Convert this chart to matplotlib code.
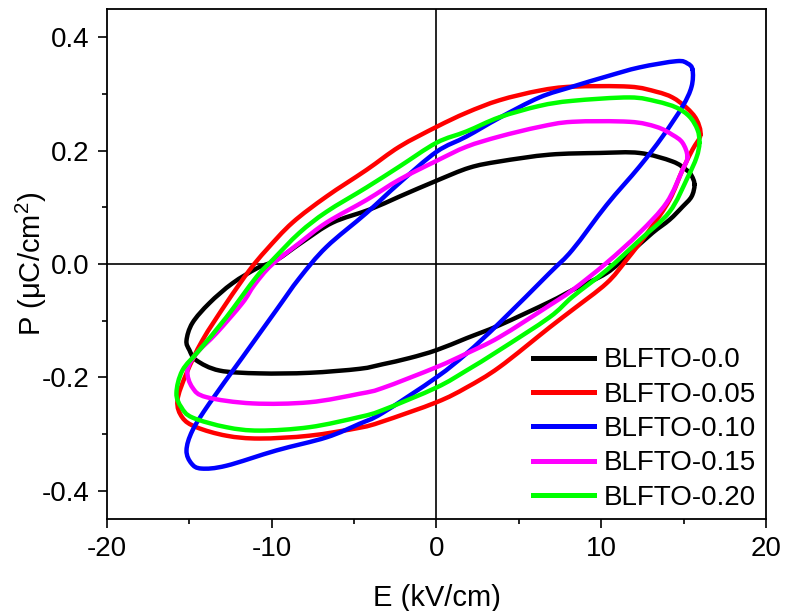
import matplotlib
matplotlib.use("Agg")
import matplotlib.pyplot as plt
import numpy as np
from matplotlib.ticker import MultipleLocator, FuncFormatter
from matplotlib.path import Path
from matplotlib.patches import PathPatch
from matplotlib.lines import Line2D

plt.rcParams['font.family'] = ['Liberation Sans', 'DejaVu Sans']
plt.rcParams['mathtext.fontset'] = 'custom'
plt.rcParams['mathtext.rm'] = 'Liberation Sans'
plt.rcParams['mathtext.default'] = 'regular'

# P-E hysteresis loops: field E (kV/cm) and polarization P (uC/cm^2),
# each traced from the +E tip along the upper branch and back on the lower one.
labels = ["BLFTO-0.0", "BLFTO-0.05", "BLFTO-0.10", "BLFTO-0.15", "BLFTO-0.20"]
colors = ["#000000", "#ff0000", "#0000ff", "#ff00ff", "#00ff00"]

E_00 = [15.66, 15.48, 15.17, 14.32, 12.32, 9.89, 6.86, 3.82, 2.00, 0.0, -2.25, -4.07,
        -6.31, -8.13, -9.71, -10.86, -12.38, -13.78, -14.81, -15.17, -14.99, -14.57,
        -13.17, -10.74, -7.71, -4.67, -3.28, -1.64, 0.0, 1.82, 3.82, 6.86, 8.25, 10.32,
        11.72, 13.11, 14.14, 14.93, 15.48]
P_00 = [0.140, 0.156, 0.166, 0.181, 0.196, 0.196, 0.193, 0.181, 0.170, 0.147, 0.119, 0.096,
        0.073, 0.039, 0.007, -0.007, -0.034, -0.069, -0.104, -0.135, -0.152, -0.170,
        -0.188, -0.193, -0.192, -0.185, -0.177, -0.166, -0.152, -0.131, -0.108, -0.067,
        -0.046, -0.016, 0.019, 0.055, 0.078, 0.101, 0.119]

E_05 = [16.02, 15.78, 15.17, 14.32, 13.35, 11.71, 8.25, 6.25, 3.82, 1.82, 0.0, -2.25,
        -4.25, -6.68, -8.74, -10.32, -11.35, -12.75, -14.21, -15.17, -15.72, -15.42,
        -14.57, -12.75, -10.74, -7.71, -4.67, -3.28, 0.0, 1.82, 3.82, 6.86, 8.25, 10.32,
        11.53, 12.93, 14.14, 14.93, 15.54]
P_05 = [0.228, 0.255, 0.276, 0.294, 0.304, 0.313, 0.313, 0.306, 0.289, 0.267, 0.242, 0.207,
        0.166, 0.119, 0.073, 0.025, -0.011, -0.069, -0.135, -0.193, -0.241, -0.271,
        -0.288, -0.303, -0.308, -0.303, -0.289, -0.278, -0.244, -0.218, -0.182, -0.112,
        -0.081, -0.034, 0.007, 0.060, 0.113, 0.166, 0.202]

E_10 = [15.54, 15.23, 14.57, 12.32, 10.32, 8.25, 6.25, 3.82, 1.82, 0.0, -2.25, -4.25,
        -6.68, -8.32, -9.71, -11.78, -13.78, -14.81, -15.17, -14.87, -14.26, -12.75,
        -9.71, -6.68, -4.67, -3.28, 0.0, 1.82, 3.82, 6.86, 8.25, 10.32, 12.32, 13.72,
        14.93, 15.48]
P_10 = [0.343, 0.354, 0.358, 0.347, 0.331, 0.313, 0.294, 0.258, 0.225, 0.198, 0.143, 0.090,
        0.030, -0.025, -0.081, -0.165, -0.246, -0.294, -0.329, -0.352, -0.361, -0.356,
        -0.329, -0.306, -0.282, -0.263, -0.200, -0.158, -0.104, -0.016, 0.025, 0.104,
        0.172, 0.225, 0.278, 0.313]

E_15 = [15.23, 14.93, 14.32, 13.35, 11.71, 8.25, 6.25, 3.82, 1.82, 0.0, -2.25, -4.25,
        -6.68, -8.32, -10.02, -11.05, -11.78, -13.35, -14.57, -15.11, -14.81, -13.96,
        -11.17, -7.71, -4.67, -3.28, 0.0, 1.82, 3.82, 6.86, 8.25, 10.32, 12.32, 13.96,
        14.93]
P_15 = [0.189, 0.214, 0.228, 0.242, 0.251, 0.251, 0.242, 0.225, 0.207, 0.182, 0.149, 0.113,
        0.073, 0.037, -0.002, -0.037, -0.069, -0.122, -0.158, -0.188, -0.218, -0.235,
        -0.246, -0.244, -0.229, -0.219, -0.182, -0.158, -0.129, -0.073, -0.046, 0.002,
        0.055, 0.108, 0.166]

E_20 = [15.96, 15.84, 15.36, 14.57, 13.35, 11.71, 8.25, 6.25, 3.82, 1.82, 0.0, -2.25,
        -4.25, -6.68, -8.32, -9.95, -10.93, -12.75, -14.39, -15.42, -15.78, -15.48,
        -14.81, -12.75, -10.74, -7.71, -4.67, -3.28, 0.0, 1.82, 3.82, 6.86, 8.25, 10.32,
        12.32, 14.14, 15.23, 15.78]
P_20 = [0.214, 0.237, 0.260, 0.276, 0.287, 0.294, 0.288, 0.279, 0.259, 0.234, 0.214, 0.172,
        0.135, 0.092, 0.055, 0.007, -0.023, -0.094, -0.152, -0.188, -0.228, -0.253,
        -0.271, -0.288, -0.294, -0.288, -0.270, -0.258, -0.218, -0.188, -0.152, -0.094,
        -0.058, -0.011, 0.042, 0.092, 0.152, 0.188]

loops = [(E_00, P_00), (E_05, P_05), (E_10, P_10), (E_15, P_15), (E_20, P_20)]


def smooth_closed_path(x, y):
    """Closed Catmull-Rom curve through the measured points, as cubic Bezier segments."""
    pts = np.column_stack([x, y])
    n = len(pts)
    verts = [pts[0]]
    codes = [Path.MOVETO]
    for i in range(n):
        p0, p1, p2, p3 = pts[i - 1], pts[i], pts[(i + 1) % n], pts[(i + 2) % n]
        c1 = p1 + (p2 - p0) / 6.0
        c2 = p2 - (p3 - p1) / 6.0
        verts += [c1, c2, p2]
        codes += [Path.CURVE4] * 3
    return Path(verts, codes)


fig = plt.figure(figsize=(7.86, 6.11), dpi=100)
ax = fig.add_axes([0.136, 0.1506, 0.8386, 0.8346])

ax.axhline(0, color='black', lw=1.2, zorder=1)
ax.axvline(0, color='black', lw=1.2, zorder=1)

handles = []
for (E, P), c, lab in zip(loops, colors, labels):
    patch = PathPatch(smooth_closed_path(E, P), facecolor='none', edgecolor=c,
                      lw=3.2, joinstyle='round', capstyle='round', zorder=2)
    ax.add_patch(patch)
    handles.append(Line2D([], [], color=c, lw=3.6, label=lab))

ax.set_xlim(-20, 20)
ax.set_ylim(-0.45, 0.45)
ax.xaxis.set_major_locator(MultipleLocator(10))
ax.xaxis.set_minor_locator(MultipleLocator(5))
ax.yaxis.set_major_locator(MultipleLocator(0.2))
ax.yaxis.set_minor_locator(MultipleLocator(0.1))
ax.xaxis.set_major_formatter(FuncFormatter(lambda v, p: f"{v:.0f}"))
ax.yaxis.set_major_formatter(FuncFormatter(lambda v, p: f"{v:.1f}"))

ax.tick_params(which='both', direction='out', top=False, right=False, width=1.2)
ax.tick_params(which='major', length=6.5, labelsize=20, pad=6)
ax.tick_params(which='minor', length=3.5)
for s in ax.spines.values():
    s.set_linewidth(1.3)

ax.set_xlabel("E (kV/cm)", fontsize=21)
ax.set_ylabel("P (μC/cm$^{2}$)", fontsize=21)
ax.xaxis.set_label_coords(0.5, -0.128)
ax.yaxis.set_label_coords(-0.088, 0.5)

ax.legend(handles=handles, loc='lower right', frameon=False, fontsize=20,
          handlelength=2.2, handletextpad=0.35, labelspacing=0.3,
          borderaxespad=0.0, borderpad=0.3, bbox_to_anchor=(0.997, 0.0))

fig.savefig("out.png", dpi=100)
